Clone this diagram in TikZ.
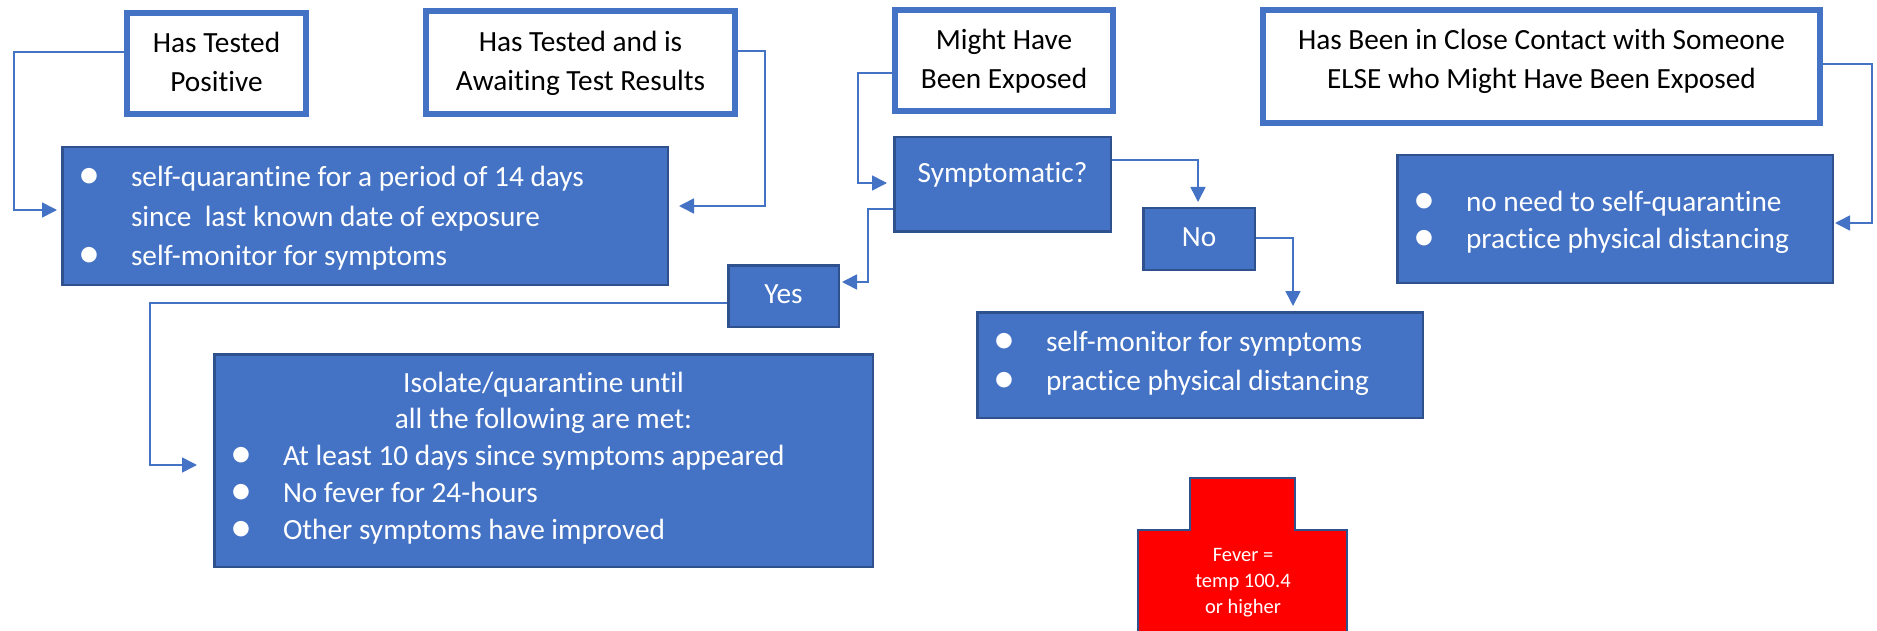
\documentclass[tikz,border=0pt]{standalone}
\usepackage{fontspec}
\setmainfont{Carlito}[Ligatures={NoCommon,NoRare,NoContextual}]
\usepackage{graphicx}
\usetikzlibrary{arrows.meta,calc}
\definecolor{blueF}{HTML}{4472C4}
\definecolor{darkB}{HTML}{2F528F}
\definecolor{feverR}{HTML}{FF0000}
\newcommand{\bul}{\raisebox{-2pt}{\scalebox{1.5}{•}}}
\newcommand{\bitem}[1]{\hspace*{26.75pt}\makebox[0pt]{\bul}\hspace*{42pt}#1}
\newcommand{\cont}[1]{\hspace*{68.75pt}#1}
\newcommand{\ctext}[3]{\raisebox{#1}[0pt][0pt]{\parbox[b]{#2}{\centering #3}}}
\newcommand{\ltext}[3]{\raisebox{#1}[0pt][0pt]{\parbox[b]{#2}{\raggedright #3}}}
\tikzset{
  wbox/.style={draw=blueF, line width=6pt, fill=white, inner sep=0pt, text=black},
  bbox/.style={draw=darkB, line width=2.5pt, fill=blueF, inner sep=0pt, text=white},
  conn/.style={draw=blueF, line width=1.6pt, -{Triangle[length=15pt,width=15pt]}},
  big/.style={font=\fontsize{29.3}{39}\selectfont},
  feverbox/.style={draw=darkB, fill=feverR, line width=2pt},
}
\begin{document}
\begin{tikzpicture}[x=1pt,y=-1pt]
\clip (0,0) rectangle (1877,631);
\fill[white] (0,0) rectangle (1877,631);

% white boxes
\node[wbox, big, minimum width=179, minimum height=101] (htp) at (216.5,63.5)
  {\ctext{-28.5pt}{179pt}{Has Tested\\Positive}};
\node[wbox, big, minimum width=309, minimum height=103] (await) at (580.5,62.5)
  {\ctext{-28pt}{309pt}{Has Tested and is\\Awaiting Test Results}};
\node[wbox, big, minimum width=218, minimum height=101] (might) at (1004,60.5)
  {\ctext{-28pt}{218pt}{Might Have\\Been Exposed}};
\node[wbox, big, minimum width=557, minimum height=113] (contact) at (1541.5,66.5)
  {\ctext{-21.8pt}{557pt}{Has Been in Close Contact with Someone\\ELSE who Might Have Been Exposed}};

% blue boxes
\node[bbox, font=\fontsize{29.3}{39.5}\selectfont, minimum width=605.5, minimum height=137.5] (box1) at (365,216)
  {\ltext{-49.5pt}{605.5pt}{\bitem{self-quarantine for a period of 14 days}\\\cont{since\ \ last known date of exposure}\\\bitem{self-monitor for symptoms}}};
\node[bbox, big, minimum width=216.5, minimum height=94.5] (sympt) at (1002.5,184.5)
  {\ctext{1.8pt}{216.5pt}{Symptomatic?}};
\node[bbox, big, minimum width=111.5, minimum height=61.5] (no) at (1199,239)
  {\ctext{-8pt}{111.5pt}{No}};
\node[bbox, big, minimum width=110.5, minimum height=61.5] (yes) at (783.5,296)
  {\ctext{-7pt}{110.5pt}{Yes}};
\node[bbox, font=\fontsize{29.3}{36.75}\selectfont, minimum width=658.5, minimum height=212.5] (iso) at (543.5,460.5)
  {\ltext{-78.5pt}{658.5pt}{\makebox[\linewidth]{Isolate/quarantine until}\\\makebox[\linewidth]{all the following are met:}\\\bitem{At least 10 days since symptoms appeared}\\\bitem{No fever for 24-hours}\\\bitem{Other symptoms have improved}}};
\node[bbox, font=\fontsize{29.3}{39}\selectfont, minimum width=445.5, minimum height=105.5] (box3) at (1200,365)
  {\ltext{-25.5pt}{445.5pt}{\bitem{self-monitor for symptoms}\\\bitem{practice physical distancing}}};
\node[bbox, font=\fontsize{29.3}{37}\selectfont, minimum width=435.5, minimum height=127.5] (box4) at (1615,219)
  {\ltext{-29.3pt}{435.5pt}{\bitem{no need to self-quarantine}\\\bitem{practice physical distancing}}};

% fever shape
\filldraw[feverbox] (1138,650) -- (1138,530) -- (1190,530) -- (1190,478) -- (1295,478) -- (1295,530) -- (1347,530) -- (1347,650) -- cycle;
\node[text=white, font=\fontsize{20.5}{25.8}\selectfont, inner sep=0pt] (fever) at (1243,580)
  {\ctext{-33.3pt}{150pt}{Fever =\\temp 100.4\\or higher}};

% connectors
\draw[conn] ($(htp.west)+(0,-11.5)$) -- (14,52) |- ($(box1.west)+(-4,-6)$);
\draw[conn] ($(await.east)+(0,-11.5)$) -- (765,51) |- ($(box1.east)+(10,-10)$);
\draw[conn] ($(might.west)+(0,12.5)$) -- (858,73) |- ($(sympt.west)+(-6,-1.5)$);
\draw[conn] ($(sympt.east)+(0,-24.5)$) -| ($(no.north)+(-1,-5)$);
\draw[conn] ($(sympt.west)+(0,24.5)$) -- (868,209) |- ($(yes.east)+(2,-14)$);
\draw[conn] ($(yes.west)+(0,7)$) -- (150,303) |- ($(iso.west)+(-16,4.5)$);
\draw[conn] ($(no.east)+(0,-1)$) -| ($(box3.north)+(93,-5)$);
\draw[conn] ($(contact.east)+(0,-2.5)$) -- (1872,64) |- ($(box4.east)+(1,4)$);
\end{tikzpicture}
\end{document}
